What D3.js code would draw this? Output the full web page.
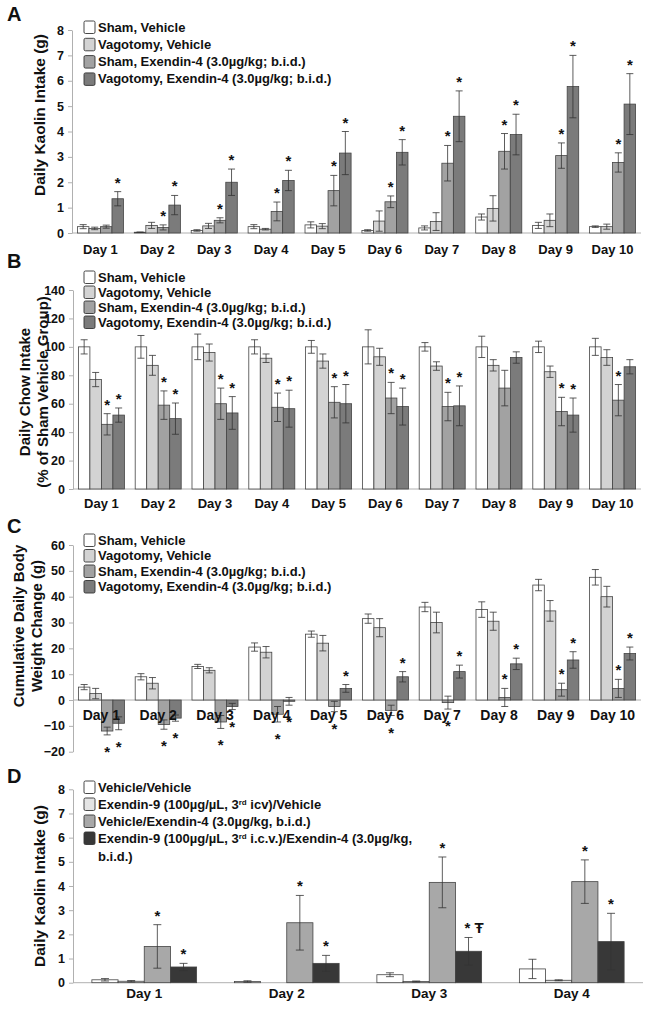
<!DOCTYPE html>
<html lang="en">
<head>
<meta charset="utf-8">
<title>Exendin-4 kaolin, chow and body weight</title>
<script src="https://d3js.org/d3.v7.min.js"></script>
<style>
  body {margin:0; background:#fff;}
  svg text {font-family:"Liberation Sans Narrow", "Liberation Sans", Arial, sans-serif; font-weight:bold; fill:#111;}
  svg text.ytitle, svg text.letter {font-family:"Liberation Sans", Arial, sans-serif;}
</style>
</head>
<body>
<div id="chart"></div>
<script>
// ---- categories / legends ----
const days10 = ["Day 1", "Day 2", "Day 3", "Day 4", "Day 5", "Day 6", "Day 7", "Day 8", "Day 9", "Day 10"];
const days4 = ["Day 1", "Day 2", "Day 3", "Day 4"];
const groupsABC = ["Sham, Vehicle", "Vagotomy, Vehicle", "Sham, Exendin-4 (3.0µg/kg; b.i.d.)", "Vagotomy, Exendin-4 (3.0µg/kg; b.i.d.)"];
const groupsD = ["Vehicle/Vehicle", "Exendin-9 (100µg/µL, 3^rd icv)/Vehicle", "Vehicle/Exendin-4 (3.0µg/kg, b.i.d.)", "Exendin-9 (100µg/µL, 3^rd i.c.v.)/Exendin-4 (3.0µg/kg,\nb.i.d.)"];

// ---- A: daily kaolin intake (g) ----
const aShamVeh = [0.25, 0.03, 0.10, 0.25, 0.32, 0.10, 0.20, 0.63, 0.30, 0.25];
const aShamVehErr = [0.08, 0.01, 0.03, 0.08, 0.12, 0.03, 0.08, 0.12, 0.12, 0.03];
const aVagVeh = [0.18, 0.30, 0.28, 0.15, 0.27, 0.47, 0.45, 0.97, 0.50, 0.25];
const aVagVehErr = [0.05, 0.12, 0.10, 0.03, 0.10, 0.40, 0.35, 0.50, 0.25, 0.10];
const aShamEx = [0.25, 0.22, 0.50, 0.85, 1.67, 1.23, 2.75, 3.22, 3.05, 2.78];
const aShamExErr = [0.06, 0.10, 0.10, 0.37, 0.60, 0.23, 0.70, 0.70, 0.50, 0.38];
const aVagEx = [1.35, 1.10, 2.00, 2.07, 3.15, 3.18, 4.60, 3.88, 5.77, 5.08];
const aVagExErr = [0.28, 0.38, 0.52, 0.40, 0.85, 0.50, 1.00, 0.80, 1.23, 1.20];
const aShamExStar = ["", "*", "*", "*", "*", "*", "*", "*", "*", "*"];
const aVagExStar = ["*", "*", "*", "*", "*", "*", "*", "*", "*", "*"];

// ---- B: daily chow intake (% of sham vehicle) ----
const bShamVeh = [100, 100, 100, 100, 100, 100, 100, 100, 100, 100];
const bShamVehErr = [5, 8, 9, 5, 4.5, 12, 3, 7.5, 4, 6];
const bVagVeh = [77, 87, 96, 92, 90, 93, 86.5, 87, 82.5, 92.5];
const bVagVehErr = [5, 7, 6, 3, 5, 6, 3, 4, 4, 5.5];
const bShamEx = [45.5, 59, 60, 57.5, 61, 64, 58, 71, 54.5, 62.5];
const bShamExErr = [7.5, 10, 11, 10, 11, 11, 10, 12.5, 10, 11];
const bVagEx = [52, 49.5, 53.5, 56.5, 60, 58, 58.5, 92.5, 52, 86];
const bVagExErr = [5, 11, 11.5, 13, 13.5, 13, 14, 4, 12, 5];
const bShamExStar = ["*", "*", "*", "*", "*", "*", "*", "", "*", "*"];
const bVagExStar = ["*", "*", "*", "*", "*", "*", "*", "", "*", ""];

// ---- C: cumulative body weight change (g) ----
const cShamVeh = [5, 9, 13, 20.5, 25.5, 31.5, 36, 35, 44.5, 47.5];
const cShamVehErr = [1, 1.2, 0.8, 1.6, 1.2, 1.8, 1.8, 3, 2.2, 3];
const cVagVeh = [2.5, 6.5, 11.5, 18.5, 22, 28, 30, 30.5, 34.5, 40];
const cVagVehErr = [2, 2.2, 1, 2.2, 3, 3.5, 4, 3.5, 4, 4];
const cShamEx = [-12, -9.5, -8.5, -5.5, -2.5, -4, -1, 1, 4, 4.5];
const cShamExErr = [1.5, 1.8, 2.5, 3, 2, 2, 2.5, 3.5, 2.5, 3.5];
const cVagEx = [-9, -7, -2.5, -0.5, 4.5, 9, 11, 14, 15.5, 18];
const cVagExErr = [2.5, 1.2, 1.2, 1.5, 1.5, 2, 2.5, 2.2, 3.2, 2.5];
const cShamExStar = ["*", "*", "*", "*", "*", "*", "*", "*", "*", "*"];
const cVagExStar = ["*", "*", "*", "*", "*", "*", "*", "*", "*", "*"];

// ---- D: daily kaolin intake (g), exendin-9 ----
const dVehVeh = [0.12, 0.05, 0.33, 0.57];
const dVehVehErr = [0.05, 0.03, 0.08, 0.40];
const dEx9Veh = [0.06, 0.0, 0.05, 0.10];
const dEx9VehErr = [0.03, 0, 0.02, 0.02];
const dVehEx4 = [1.5, 2.48, 4.15, 4.18];
const dVehEx4Err = [0.9, 1.13, 1.05, 0.9];
const dEx9Ex4 = [0.65, 0.8, 1.3, 1.7];
const dEx9Ex4Err = [0.15, 0.33, 0.57, 1.17];
const dVehEx4Star = ["*", "*", "*", "*"];
const dEx9Ex4Star = ["*", "*", "* Ŧ", "*"];

const noStar10 = days10.map(function () { return ""; });
const noStar4 = days4.map(function () { return ""; });

const greysABC = ["#ffffff", "#d3d3d3", "#a2a2a2", "#7b7b7b"];
const greysD = ["#ffffff", "#e4e4e4", "#a8a8a8", "#383838"];

const svg = d3.select("#chart").append("svg")
  .attr("width", 649).attr("height", 1010)
  .style("background", "#fff");

function drawPanel(p) {
  const g = svg.append("g");
  const x0 = d3.scaleBand().domain(p.days).range([p.left, p.right])
    .paddingInner(p.padIn).paddingOuter(p.padIn / 2);
  const x1 = d3.scaleBand().domain(d3.range(p.values.length)).range([0, x0.bandwidth()]);
  const y = d3.scaleLinear().domain(p.yDomain).range([p.bottom, p.top]);

  // panel letter
  g.append("text").attr("class", "letter").attr("x", 7).attr("y", p.letterY)
    .style("font-size", "20px").text(p.letter);

  // y axis
  const ax = g.append("g").attr("transform", "translate(" + p.left + ",0)")
    .call(d3.axisLeft(y).tickValues(p.yTicks).tickSize(4).tickSizeOuter(0).tickPadding(4));
  ax.select(".domain").attr("stroke", "#b0b0b0");
  ax.selectAll(".tick line").attr("stroke", "#b0b0b0");
  ax.selectAll(".tick text").style("font-size", "12.5px").style("font-family", null).attr("fill", "#111");

  // x axis line at zero
  g.append("line").attr("x1", p.left).attr("x2", p.right)
    .attr("y1", y(0)).attr("y2", y(0)).attr("stroke", "#b0b0b0");

  // y title
  const ty = g.append("text").attr("class", "ytitle")
    .attr("transform", "translate(" + p.titleX + "," + p.titleY + ") rotate(-90)")
    .attr("text-anchor", "middle").style("font-size", p.titleSize + "px");
  p.title.forEach(function (line, i) {
    ty.append("tspan").attr("x", 0).attr("dy", i === 0 ? 0 : p.titleGap).text(line);
  });

  // bars
  p.values.forEach(function (vals, si) {
    const sg = g.append("g");
    sg.selectAll("rect").data(vals).enter().append("rect")
      .attr("x", function (d, i) { return x0(p.days[i]) + x1(si); })
      .attr("y", function (d) { return Math.min(y(d), y(0)); })
      .attr("width", x1.bandwidth())
      .attr("height", function (d) { return Math.abs(y(d) - y(0)); })
      .attr("fill", p.colors[si]).attr("stroke", "#444").attr("stroke-width", 0.8);
  });

  // error bars
  const cap = p.cap;
  p.values.forEach(function (vals, si) {
    vals.forEach(function (v, i) {
      const e = p.errors[si][i];
      if (!e) return;
      const cx = x0(p.days[i]) + x1(si) + x1.bandwidth() / 2;
      const eg = g.append("g").attr("stroke", "#333").attr("stroke-width", 0.8);
      eg.append("line").attr("x1", cx).attr("x2", cx).attr("y1", y(v - e)).attr("y2", y(v + e));
      eg.append("line").attr("x1", cx - cap).attr("x2", cx + cap).attr("y1", y(v - e)).attr("y2", y(v - e));
      eg.append("line").attr("x1", cx - cap).attr("x2", cx + cap).attr("y1", y(v + e)).attr("y2", y(v + e));
    });
  });

  // day labels
  g.selectAll("text.day").data(p.days).enter().append("text").attr("class", "day")
    .attr("x", function (d) { return x0(d) + x0.bandwidth() / 2; })
    .attr("y", p.dayY).attr("text-anchor", "middle")
    .style("font-size", p.daySize + "px").text(function (d) { return d; });

  // significance marks
  p.stars.forEach(function (marks, si) {
    marks.forEach(function (m, i) {
      if (!m) return;
      const v = p.values[si][i], e = p.errors[si][i];
      const cx = x0(p.days[i]) + x1(si) + x1.bandwidth() / 2;
      const cy = v < 0 ? y(v - e) + 14 : y(v + e) - 12;
      g.append("text").attr("x", cx).attr("y", cy + 8).attr("text-anchor", m.length > 1 ? "start" : "middle")
        .attr("dx", m.length > 1 ? -4 : 0)
        .style("font-size", "15px").text(m);
    });
  });

  // legend
  const lg = g.append("g");
  p.legend.forEach(function (label, i) {
    const ly = p.legendY + i * p.legendStep;
    lg.append("rect").attr("x", 84).attr("y", ly - 6).attr("width", 11).attr("height", 12.5).attr("rx", 1.5)
      .attr("fill", p.colors[i]).attr("stroke", "#333").attr("stroke-width", 0.9);
    label.split("\n").forEach(function (line, li) {
      const t = lg.append("text").attr("x", 98).attr("y", ly + 4.5 + li * 18).style("font-size", "13px");
      line.split(/\^(\w+)/).forEach(function (part, k) {
        if (k % 2 === 1) {
          t.append("tspan").attr("dy", -4).style("font-size", "8px").text(part);
        } else if (part) {
          t.append("tspan").attr("dy", k > 0 ? 4 : 0).text(part);
        }
      });
    });
  });
}

drawPanel({
  letter: "A", letterY: 21, days: days10, left: 72, right: 641, padIn: 0.19,
  yDomain: [0, 8], yTicks: d3.range(0, 9), top: 30, bottom: 233,
  values: [aShamVeh, aVagVeh, aShamEx, aVagEx],
  errors: [aShamVehErr, aVagVehErr, aShamExErr, aVagExErr],
  stars: [noStar10, noStar10, aShamExStar, aVagExStar],
  colors: greysABC, cap: 3.5, dayY: 254, daySize: 13,
  title: ["Daily Kaolin Intake (g)"], titleX: 45, titleY: 115, titleSize: 15.5, titleGap: 0,
  legend: groupsABC, legendY: 27, legendStep: 17.3
});

drawPanel({
  letter: "B", letterY: 268, days: days10, left: 73, right: 641, padIn: 0.19,
  yDomain: [0, 140], yTicks: d3.range(0, 141, 20), top: 290, bottom: 489,
  values: [bShamVeh, bVagVeh, bShamEx, bVagEx],
  errors: [bShamVehErr, bVagVehErr, bShamExErr, bVagExErr],
  stars: [noStar10, noStar10, bShamExStar, bVagExStar],
  colors: greysABC, cap: 3.5, dayY: 508, daySize: 13,
  title: ["Daily Chow Intake", "(% of Sham Vehicle Group)"], titleX: 30, titleY: 392, titleSize: 15, titleGap: 17.5,
  legend: groupsABC, legendY: 277, legendStep: 15
});

drawPanel({
  letter: "C", letterY: 533, days: days10, left: 73, right: 641, padIn: 0.19,
  yDomain: [-20, 60], yTicks: d3.range(-20, 61, 10), top: 545, bottom: 751.7,
  values: [cShamVeh, cVagVeh, cShamEx, cVagEx],
  errors: [cShamVehErr, cVagVehErr, cShamExErr, cVagExErr],
  stars: [noStar10, noStar10, cShamExStar, cVagExStar],
  colors: greysABC, cap: 3.5, dayY: 720, daySize: 14,
  title: ["Cumulative Daily Body", "Weight Change (g)"], titleX: 24, titleY: 626, titleSize: 15, titleGap: 18,
  legend: groupsABC, legendY: 540, legendStep: 15.5
});

drawPanel({
  letter: "D", letterY: 783, days: days4, left: 73, right: 643, padIn: 0.265,
  yDomain: [0, 8], yTicks: d3.range(0, 9), top: 789.3, bottom: 982.7,
  values: [dVehVeh, dEx9Veh, dVehEx4, dEx9Ex4],
  errors: [dVehVehErr, dEx9VehErr, dVehEx4Err, dEx9Ex4Err],
  stars: [noStar4, noStar4, dVehEx4Star, dEx9Ex4Star],
  colors: greysD, cap: 4, dayY: 998, daySize: 13.5,
  title: ["Daily Kaolin Intake (g)"], titleX: 45, titleY: 886, titleSize: 15.5, titleGap: 0,
  legend: groupsD, legendY: 787, legendStep: 17
});
</script>
</body>
</html>
